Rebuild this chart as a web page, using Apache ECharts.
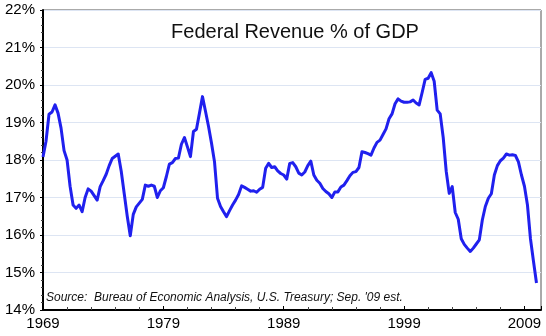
<!DOCTYPE html>
<html>
<head>
<meta charset="utf-8">
<script src="https://cdn.jsdelivr.net/npm/echarts@6/dist/echarts.min.js"></script>
<style>
html,body{margin:0;padding:0;background:#fff;}
#chart{width:546px;height:336px;}
</style>
</head>
<body>
<div id="chart"></div>
<script>
// Quarterly federal revenue as % of GDP, starting 1969 Q1
var startYear = 1969;
var revenuePct = [
  18.08, 18.5, 19.22, 19.28, 19.47, 19.25, 18.85, 18.25, 18.0, 17.3,
  16.8, 16.71, 16.8, 16.62, 17.0, 17.23, 17.17, 17.05, 16.93, 17.29,
  17.45, 17.62, 17.85, 18.04, 18.1, 18.16, 17.7, 17.1, 16.5, 15.98,
  16.55, 16.75, 16.85, 16.95, 17.33, 17.3, 17.33, 17.3, 17.0, 17.18,
  17.26, 17.56, 17.89, 17.93, 18.04, 18.05, 18.42, 18.6, 18.35, 18.09,
  18.76, 18.82, 19.25, 19.69, 19.3, 18.9, 18.45, 17.95, 16.98, 16.76,
  16.62, 16.49, 16.65, 16.8, 16.93, 17.08, 17.31, 17.27, 17.22, 17.17,
  17.18, 17.14, 17.22, 17.27, 17.78, 17.91, 17.8, 17.82, 17.71, 17.64,
  17.6, 17.49, 17.91, 17.93, 17.82, 17.65, 17.6, 17.68, 17.85, 17.97,
  17.6, 17.46, 17.38, 17.24, 17.16, 17.1, 17.0, 17.15, 17.15, 17.28,
  17.33, 17.45, 17.58, 17.67, 17.69, 17.8, 18.22, 18.2, 18.17, 18.13,
  18.32, 18.47, 18.53, 18.68, 18.83, 19.1, 19.23, 19.5, 19.63, 19.57,
  19.54, 19.54, 19.55, 19.6, 19.52, 19.47, 19.8, 20.15, 20.18, 20.33,
  20.1, 19.33, 19.23, 18.6, 17.7, 17.11, 17.29, 16.6, 16.42, 15.9,
  15.75, 15.65, 15.56, 15.65, 15.76, 15.87, 16.4, 16.76, 16.98, 17.1,
  17.6, 17.85, 17.98, 18.05, 18.16, 18.13, 18.14, 18.12, 17.95, 17.6,
  17.3, 16.8, 15.9, 15.3, 14.72
];
var tickYears = [1969, 1979, 1989, 1999, 2009];
var yMin = 14, yMax = 22, yStep = 1;
var titleText = 'Federal Revenue % of GDP';
var sourceText = "Source:  Bureau of Economic Analysis, U.S. Treasury; Sep. '09 est.";

var seriesData = revenuePct.map(function (v, i) { return [i, v]; });
var quarterStep = (tickYears[1] - tickYears[0]) * 4;

var chart = echarts.init(document.getElementById('chart'), null, {renderer: 'canvas'});
var font = 'Liberation Sans, Arial, Helvetica, sans-serif';
chart.setOption({
  animation: false,
  backgroundColor: '#ffffff',
  grid: {left: 43, right: 5, top: 10, bottom: 26, show: true, borderColor: '#555', borderWidth: 1, backgroundColor: 'transparent'},
  title: {
    text: titleText, left: 290, top: 17, textAlign: 'center',
    textStyle: {fontFamily: font, fontSize: 20, fontWeight: 'normal', color: '#111'}
  },
  graphic: [{
    type: 'text', left: 46, top: 292,
    style: {text: sourceText, fontFamily: font, fontSize: 12, fontStyle: 'italic', fill: '#111'}
  }],
  xAxis: {
    type: 'value', min: 0, max: 165.5, interval: quarterStep,
    axisLine: {show: true, onZero: false, lineStyle: {color: '#000', width: 2}},
    axisTick: {show: true, inside: true, length: 4, lineStyle: {color: '#000'}},
    minorTick: {show: true, splitNumber: 5, length: 3, lineStyle: {color: '#444'}},
    splitLine: {show: false},
    axisLabel: {
      color: '#000', fontFamily: font, fontSize: 15, margin: 6,
      formatter: function (v) { return (v % quarterStep === 0) ? String(startYear + v / 4) : ''; }
    }
  },
  yAxis: {
    type: 'value', min: yMin, max: yMax, interval: yStep,
    axisLine: {show: true, onZero: false, lineStyle: {color: '#000', width: 2}},
    axisTick: {show: true, inside: false, length: 3, lineStyle: {color: '#000'}},
    minorTick: {show: true, splitNumber: 5, length: 2, lineStyle: {color: '#444'}},
    splitLine: {show: true, lineStyle: {color: '#dde5f3', width: 1}},
    axisLabel: {
      color: '#000', fontFamily: font, fontSize: 15, margin: 8,
      formatter: function (v) { return v + '%'; }
    }
  },
  series: [{
    type: 'line', data: seriesData, showSymbol: false, symbol: 'none',
    lineStyle: {color: '#2020ee', width: 3, join: 'round'},
    z: 3
  }]
});
</script>
</body>
</html>
